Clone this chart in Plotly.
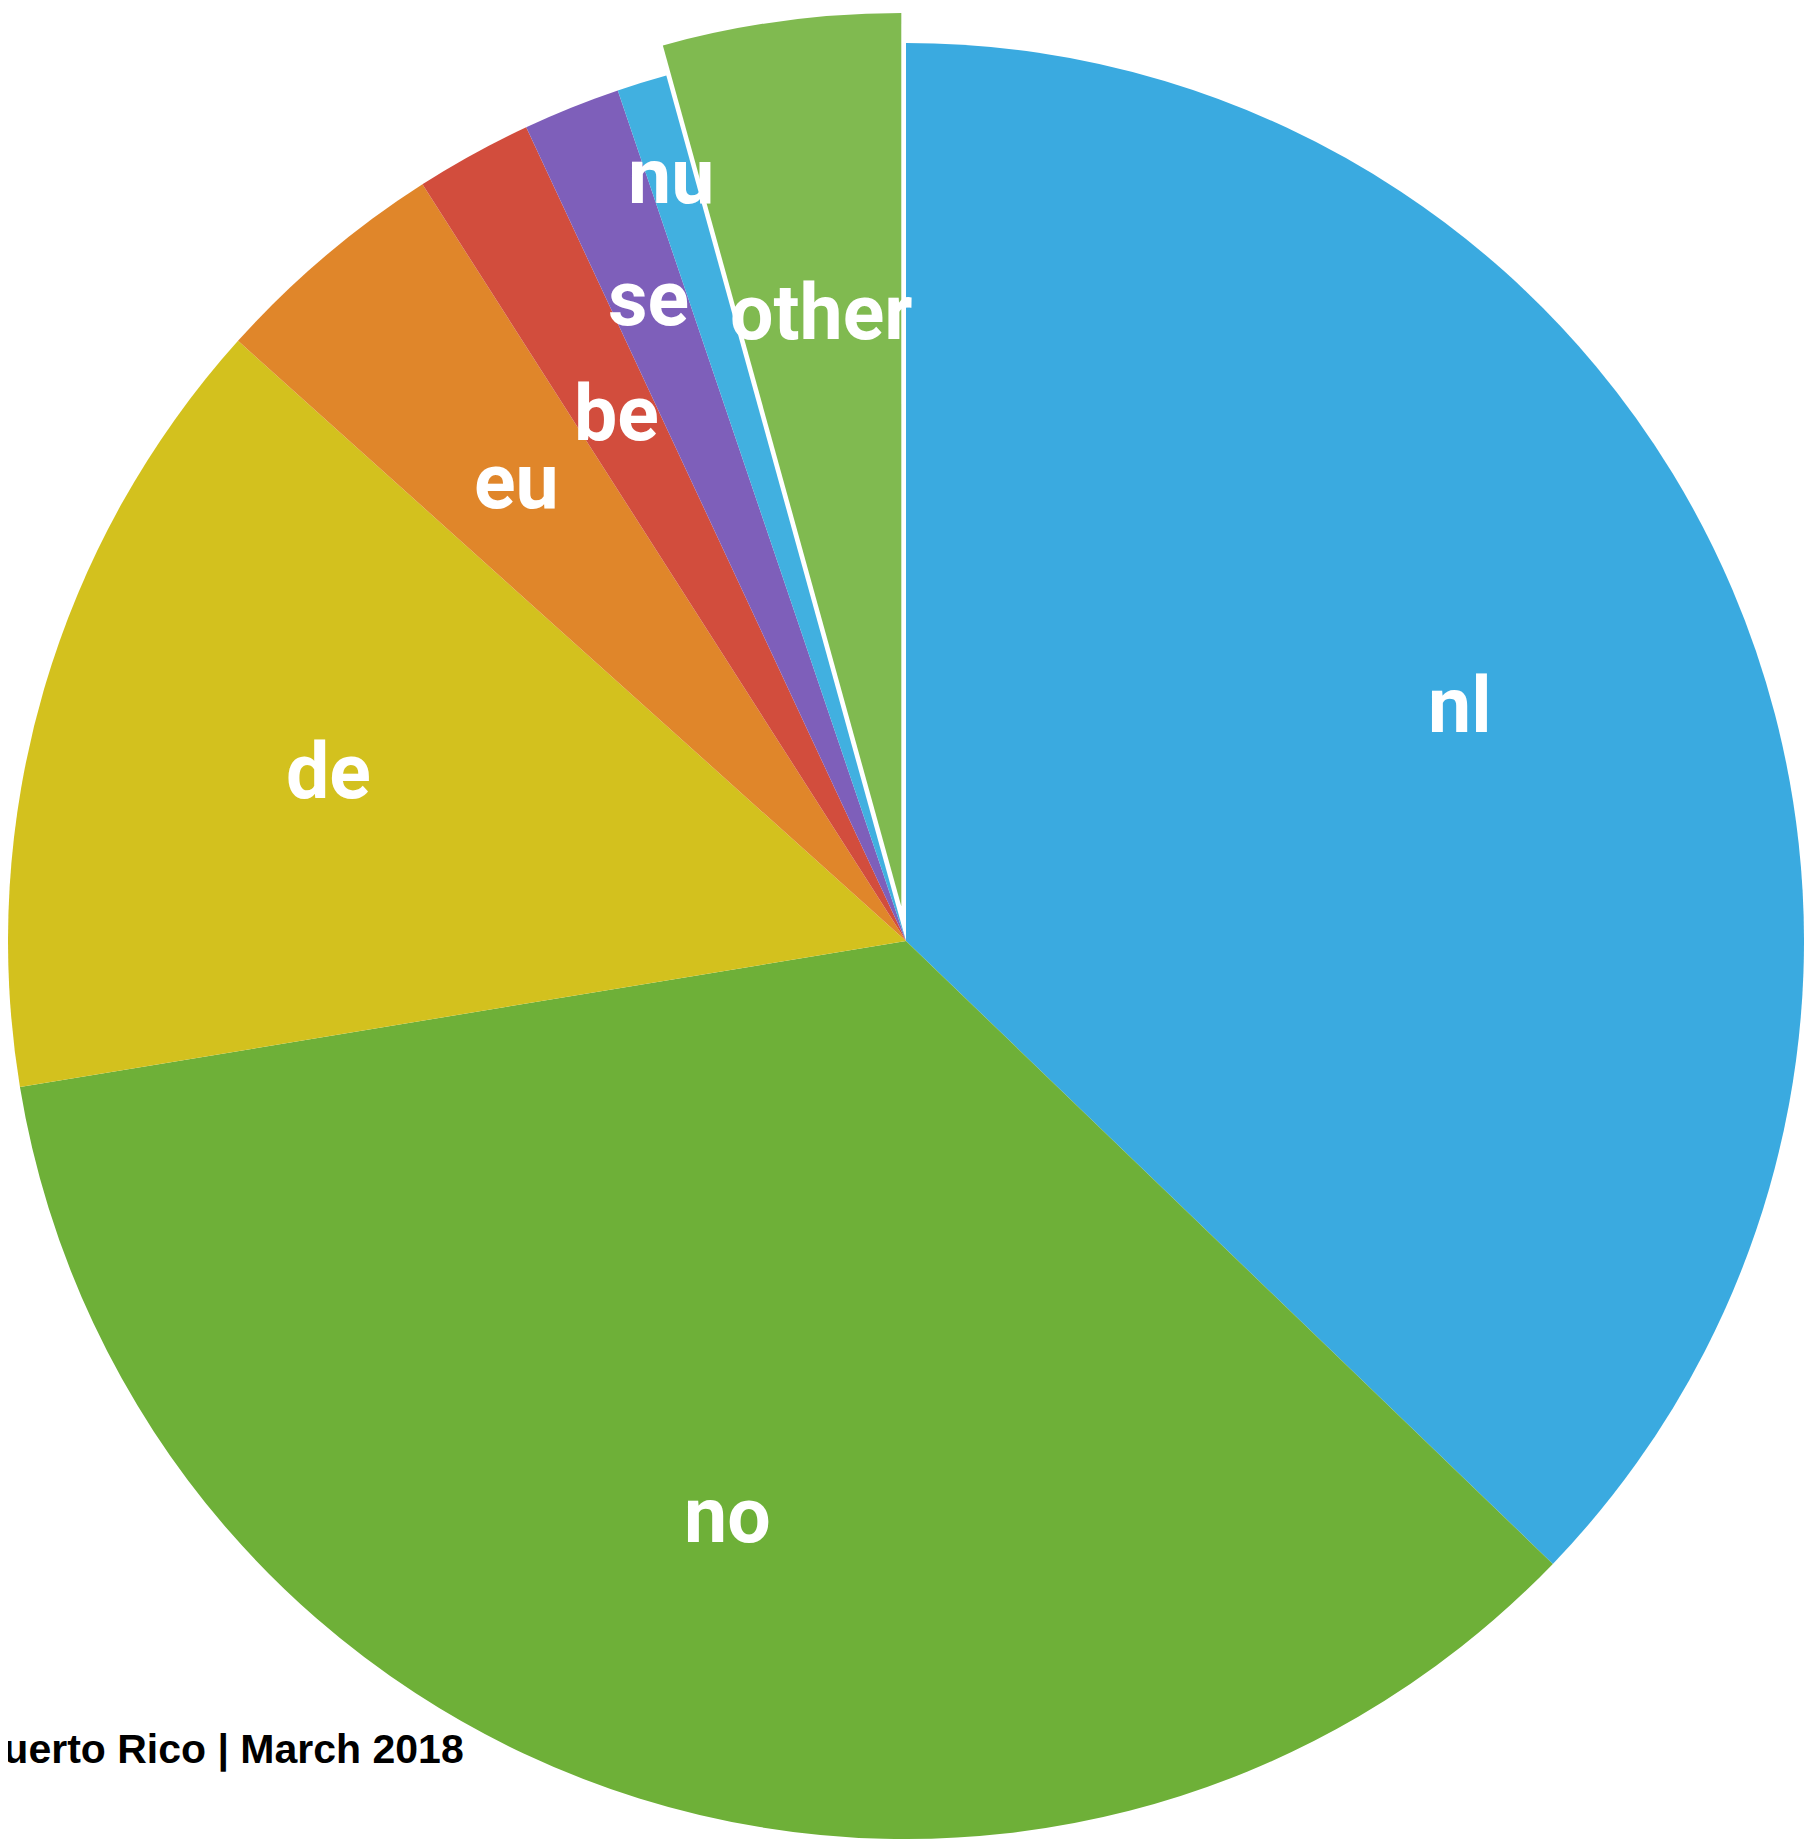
import math
import plotly.graph_objects as go

# ---- data ----
labels = ["nl", "no", "de", "eu", "be", "se", "nu", "other"]
shares = [37.2, 35.2, 14.25, 4.3, 2.1, 1.75, 0.9, 4.3]
pulled_label = "other"
caption = "Puerto Rico | March 2018"

# ---- styles ----
colors = ["#3AAAE0", "#6EB038", "#D3C11E", "#E0862A", "#D24D3D",
          "#7E5FBA", "#41B0E0", "#80BA50"]
label_radius = [0.67, 0.67, 0.67, 0.67, 0.67, 0.77, 0.89, 0.67]

W, H = 1812, 1844
OFF = 8                # default page (body) margin in the browser
CX, CY = 906 - OFF, 941 - OFF   # pie centre in figure pixels (from top-left)
R = 904                # wanted pie radius in pixels
PULL_PX = 35           # offset of the pulled slice

total = sum(shares)
cum = 0.0
mids = []
for s in shares:
    mids.append((cum + s / 2) / total * 2 * math.pi)
    cum += s

pi_idx = labels.index(pulled_label)
th = mids[pi_idx]
cx2 = CX + PULL_PX * math.sin(th)
cy2 = CY - PULL_PX * math.cos(th)


def domain_for(cx, cy, r):
    yb = H - cy
    r = min(r, cx, W - cx, yb, H - yb)
    return dict(x=[(cx - r) / W, (cx + r) / W], y=[(yb - r) / H, (yb + r) / H]), r


dom1, r1 = domain_for(CX, CY, R)
dom2, r2 = domain_for(cx2, cy2, R)

transparent = "rgba(0,0,0,0)"
colors1 = [transparent if l == pulled_label else c for l, c in zip(labels, colors)]
colors2 = [c if l == pulled_label else transparent for l, c in zip(labels, colors)]

fig = go.Figure()
fig.add_trace(go.Pie(
    labels=labels, values=shares, sort=False, direction="clockwise", rotation=0,
    marker=dict(colors=colors1, line=dict(width=0)), textinfo="none",
    hoverinfo="label+percent", domain=dom1, showlegend=False,
))
fig.add_trace(go.Pie(
    labels=labels, values=shares, sort=False, direction="clockwise", rotation=0,
    marker=dict(colors=colors2, line=dict(width=0)), textinfo="none",
    hoverinfo="skip", domain=dom2, showlegend=False,
))

label_font = dict(family="Roboto, Liberation Sans, sans-serif",
                  size=77, color="white", weight="bold")
annotations = []
for i, lab in enumerate(labels):
    if lab == pulled_label:
        cx, cy, rr = cx2, cy2, r2
    else:
        cx, cy, rr = CX, CY, r1
    d = label_radius[i] * rr
    xp = cx + d * math.sin(mids[i])
    yp = cy - d * math.cos(mids[i])
    annotations.append(dict(
        x=xp / W, y=1 - yp / H, xref="paper", yref="paper", text=lab,
        showarrow=False, xanchor="center", yanchor="middle", font=label_font,
    ))

annotations.append(dict(
    x=(466 - OFF) / W, y=1 - (1749 - OFF) / H, xref="paper", yref="paper", text=caption,
    showarrow=False, xanchor="right", yanchor="middle",
    font=dict(family="Liberation Sans, Arial, sans-serif", size=41, color="black", weight="bold"),
))

fig.update_layout(
    width=W, height=H, autosize=False,
    margin=dict(l=0, r=0, t=0, b=0, pad=0),
    paper_bgcolor="white", plot_bgcolor="white",
    annotations=annotations,
)

fig.write_html("out.html")
